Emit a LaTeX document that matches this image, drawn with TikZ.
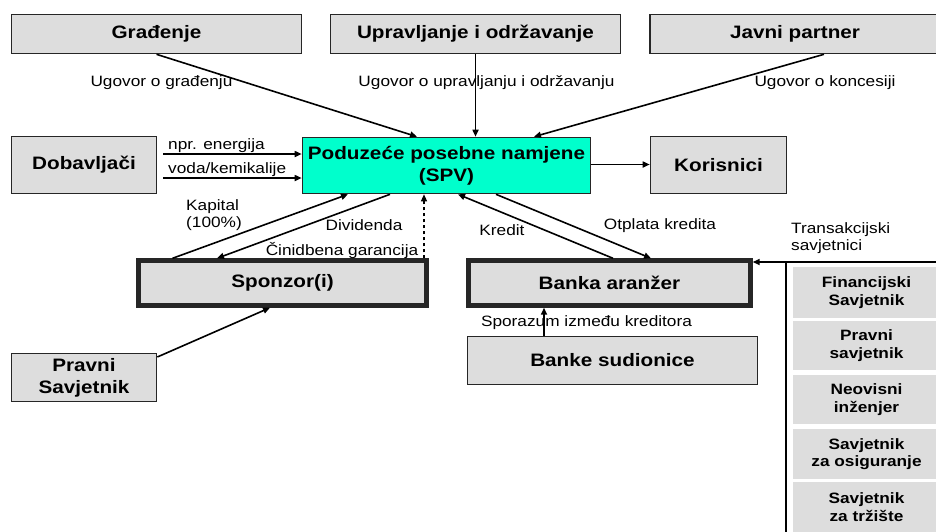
\documentclass[tikz,border=0pt]{standalone}
\usepackage{fontspec}
\setmainfont{Liberation Sans}[FakeStretch=1.15]
\usetikzlibrary{arrows.meta,calc}
\definecolor{boxgray}{HTML}{DDDDDD}
\definecolor{spvcyan}{HTML}{00FFCC}
\begin{document}
\begin{tikzpicture}[x=1pt,y=-1pt,
  box/.style={draw=black!85, line width=1.6pt, fill=boxgray, font=\fontsize{18}{22}\selectfont\bfseries, align=center, inner sep=0pt},
  thickbox/.style={box, line width=4.4pt},
  sidebox/.style={fill=boxgray, font=\fontsize{15}{17.5}\selectfont\bfseries, align=center, inner sep=0pt, minimum width=147pt},
  lab/.style={font=\fontsize{15}{17}\selectfont, inner sep=0pt},
  arr/.style={line width=1.6pt, -{Triangle[length=7pt,width=6pt]}},
  ln/.style={line width=1.5pt}
]
\useasboundingbox (0,0) rectangle (936,531);
% top row
\node[box, minimum width=290pt, minimum height=39pt] (grad) at (156.5,34) {Građenje};
\node[box, minimum width=290pt, minimum height=39pt] (upr) at (475.5,34) {Upravljanje i održavanje};
\node[box, minimum width=290pt, minimum height=39pt] (jav) at (795,34) {Javni partner};
% middle row
\node[box, minimum width=145pt, minimum height=57pt] (dob) at (84,165) {Dobavljači};
\node[box, fill=spvcyan, minimum width=288pt, minimum height=56pt] (spv) at (446.5,165.5) {Poduzeće posebne namjene\\(SPV)};
\node[box, minimum width=136pt, minimum height=57pt] (kor) at (718.5,165) {Korisnici};
% lower row
\node[thickbox, minimum width=288pt, minimum height=45pt] (spon) at (282.5,283) {Sponzor(i)};
\node[thickbox, minimum width=282pt, minimum height=45pt] (bank) at (609.5,283) {Banka aranžer};
\node[box, minimum width=145pt, minimum height=48pt] (prav) at (84,377.5) {Pravni\\Savjetnik};
\node[box, minimum width=290pt, minimum height=48pt] (bsud) at (612.5,360.5) {Banke sudionice};
% advisers column
\node[sidebox, minimum height=51pt] (fin) at (866.5,292.5) {Financijski\\Savjetnik};
\node[sidebox, minimum height=49pt] (prs) at (866.5,345.5) {Pravni\\savjetnik};
\node[sidebox, minimum height=49pt] (neo) at (866.5,399.5) {Neovisni\\inženjer};
\node[sidebox, minimum height=50pt] (osi) at (866.5,454) {Savjetnik\\za osiguranje};
\node[sidebox, minimum height=50pt] (trz) at (866.5,507) {Savjetnik\\za tržište};
\coordinate (colb) at (786,535);
\coordinate (colt) at (786,262);
\coordinate (colr) at (940,262);
\draw[ln] (colb) -- (colt) -- (colr);
\coordinate (ts) at (848,262);
\draw[arr] (ts) -- (ts -| bank.east);
% arrows top
\draw[arr] (grad.south) -- ($(spv.north)+(-29.5,0)$);
\draw[arr] (upr.south) -- (upr.south |- spv.north);
\draw[arr] ($(jav.south)+(29,0)$) -- ($(spv.north)+(87.5,0)$);
\draw[arr] ($(dob.east)+(6,-11)$) -- ($(spv.west)+(0,-11.5)$);
\draw[arr] ($(dob.east)+(6,13)$) -- ($(spv.west)+(0,12.5)$);
\coordinate (se) at ($(spv.east)+(0,-1)$);
\draw[arr] (se) -- (se -| kor.west);
% arrows lower
\draw[arr] ($(spon.north)+(-110,0)$) -- ($(spv.south)+(-98.5,0)$);
\draw[arr] ($(spv.south)+(-56.5,0)$) -- ($(spon.north)+(-65.5,0)$);
\draw[arr, dashed, line width=1.1pt] ($(spon.north)+(141.5,0)$) -- ($(spv.south)+(-22.5,0)$);
\draw[arr] ($(bank.north)+(3.5,0)$) -- ($(spv.south)+(11.5,0)$);
\draw[arr] ($(spv.south)+(49.5,0)$) -- ($(bank.north)+(41.5,0)$);
\draw[arr] ($(prav.east)+(0,-20.5)$) -- ($(spon.south)+(-12.5,0)$);
\coordinate (bs) at ($(bsud.north)+(-68.5,0)$);
\draw[arr] (bs) -- (bs |- bank.south);
% labels
\node[lab] (l1) at (161.5,83) {Ugovor o građenju};
\node[lab] (l2) at (486.5,83) {Ugovor o upravljanju i održavanju};
\node[lab] (l3) at (825,83) {Ugovor o koncesiji};
\node[lab, anchor=west] (l4) at (168,146) {npr. energija};
\node[lab, anchor=west] (l5) at (168,170) {voda/kemikalije};
\node[lab, align=left, anchor=west] (l6) at (186,215.5) {Kapital\\(100\%)};
\node[lab] (l7) at (364,225) {Dividenda};
\node[lab] (l8) at (342,250) {Činidbena garancija};
\node[lab] (l9) at (502,230) {Kredit};
\node[lab] (l10) at (660,226) {Otplata kredita};
\node[lab, align=left, anchor=west] (l11) at (791,238) {Transakcijski\\savjetnici};
\node[lab] (l12) at (586.5,323) {Sporazum između kreditora};
\end{tikzpicture}
\end{document}
